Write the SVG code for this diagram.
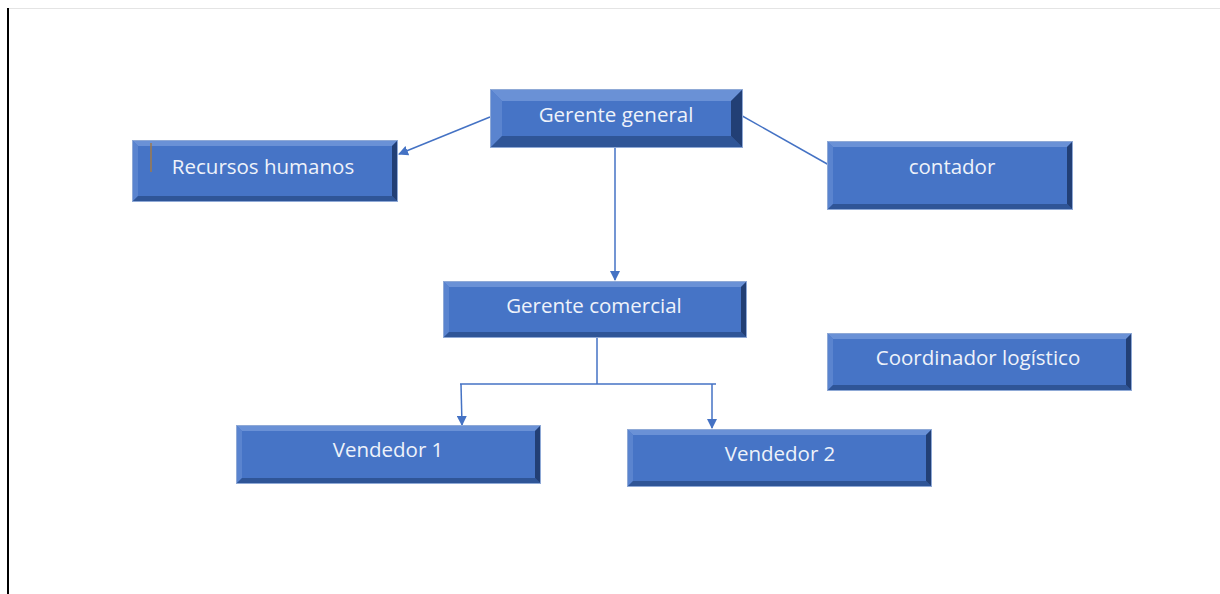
<svg xmlns="http://www.w3.org/2000/svg" width="1220" height="594" viewBox="0 0 1220 594">
<style>
.face{fill:#4674c6;}
.bt{fill:#6a91d6;}
.bl{fill:#5a84cf;}
.bb{fill:#2f5597;}
.br{fill:#223f75;}
.edge{fill:none;stroke:#8fa9d6;stroke-width:1;}
.lbl{font-family:"Open Sans","Liberation Sans",sans-serif;font-size:20.5px;fill:#eef2fa;text-anchor:middle;}
.conn{stroke:#4472c4;stroke-width:1.5;fill:none;}
</style>
<defs>
<marker id="ah" viewBox="0 0 10 10" refX="9" refY="5" markerWidth="10" markerHeight="10" markerUnits="userSpaceOnUse" orient="auto">
<path d="M0,0 L10,5 L0,10 z" fill="#4472c4"/>
</marker>
</defs>
<rect x="0" y="0" width="1220" height="594" fill="#ffffff"/>
<line x1="7" y1="8.5" x2="1220" y2="8.5" stroke="#e4e4e4" stroke-width="1"/>
<line x1="8" y1="8" x2="8" y2="594" stroke="#000" stroke-width="2"/>

<g id="connectors">
<line class="conn" x1="490" y1="117" x2="399" y2="154" marker-end="url(#ah)"/>
<line class="conn" x1="737" y1="113" x2="829" y2="165"/>
<line class="conn" x1="615" y1="148" x2="615" y2="280" marker-end="url(#ah)"/>
<line class="conn" x1="597" y1="338" x2="597" y2="384"/>
<line class="conn" x1="460" y1="384" x2="716" y2="384"/>
<line class="conn" x1="461" y1="384" x2="462" y2="425" marker-end="url(#ah)"/>
<line class="conn" x1="712" y1="384" x2="712" y2="428" marker-end="url(#ah)"/>
</g>

<g id="gerente-general">
<rect class="face" x="490" y="89" width="253" height="59"/>
<polygon class="bt" points="490,89 743,89 731,101 502,101"/>
<polygon class="bl" points="490,89 502,101 502,136 490,148"/>
<polygon class="bb" points="490,148 502,136 731,136 743,148"/>
<polygon class="br" points="743,89 731,101 731,136 743,148"/>
<rect class="edge" x="490.5" y="89.5" width="252" height="58"/>
<text class="lbl" x="616" y="122">Gerente general</text>
</g>

<g id="recursos-humanos">
<rect class="face" x="132" y="140" width="266" height="62"/>
<polygon class="bt" points="132,140 398,140 392,146 138,146"/>
<polygon class="bl" points="132,140 138,146 138,196 132,202"/>
<polygon class="bb" points="132,202 138,196 392,196 398,202"/>
<polygon class="br" points="398,140 392,146 392,196 398,202"/>
<rect class="edge" x="132.5" y="140.5" width="265" height="61"/>
<line x1="151" y1="143" x2="151" y2="172" stroke="#a07a4a" stroke-width="1.5"/>
<text class="lbl" x="263" y="174">Recursos humanos</text>
</g>

<g id="contador">
<rect class="face" x="827" y="141" width="246" height="69"/>
<polygon class="bt" points="827,141 1073,141 1067,147 833,147"/>
<polygon class="bl" points="827,141 833,147 833,204 827,210"/>
<polygon class="bb" points="827,210 833,204 1067,204 1073,210"/>
<polygon class="br" points="1073,141 1067,147 1067,204 1073,210"/>
<rect class="edge" x="827.5" y="141.5" width="245" height="68"/>
<text class="lbl" x="952" y="174">contador</text>
</g>

<g id="gerente-comercial">
<rect class="face" x="443" y="281" width="304" height="57"/>
<polygon class="bt" points="443,281 747,281 741,287 449,287"/>
<polygon class="bl" points="443,281 449,287 449,332 443,338"/>
<polygon class="bb" points="443,338 449,332 741,332 747,338"/>
<polygon class="br" points="747,281 741,287 741,332 747,338"/>
<rect class="edge" x="443.5" y="281.5" width="303" height="56"/>
<text class="lbl" x="594" y="313">Gerente comercial</text>
</g>

<g id="coordinador-logistico">
<rect class="face" x="827" y="333" width="305" height="58"/>
<polygon class="bt" points="827,333 1132,333 1126,339 833,339"/>
<polygon class="bl" points="827,333 833,339 833,385 827,391"/>
<polygon class="bb" points="827,391 833,385 1126,385 1132,391"/>
<polygon class="br" points="1132,333 1126,339 1126,385 1132,391"/>
<rect class="edge" x="827.5" y="333.5" width="304" height="57"/>
<text class="lbl" x="978" y="365">Coordinador logístico</text>
</g>

<g id="vendedor-1">
<rect class="face" x="236" y="425" width="305" height="59"/>
<polygon class="bt" points="236,425 541,425 535,431 242,431"/>
<polygon class="bl" points="236,425 242,431 242,478 236,484"/>
<polygon class="bb" points="236,484 242,478 535,478 541,484"/>
<polygon class="br" points="541,425 535,431 535,478 541,484"/>
<rect class="edge" x="236.5" y="425.5" width="304" height="58"/>
<text class="lbl" x="388" y="457">Vendedor 1</text>
</g>

<g id="vendedor-2">
<rect class="face" x="627" y="429" width="305" height="58"/>
<polygon class="bt" points="627,429 932,429 926,435 633,435"/>
<polygon class="bl" points="627,429 633,435 633,481 627,487"/>
<polygon class="bb" points="627,487 633,481 926,481 932,487"/>
<polygon class="br" points="932,429 926,435 926,481 932,487"/>
<rect class="edge" x="627.5" y="429.5" width="304" height="57"/>
<text class="lbl" x="780" y="461">Vendedor 2</text>
</g>
</svg>
